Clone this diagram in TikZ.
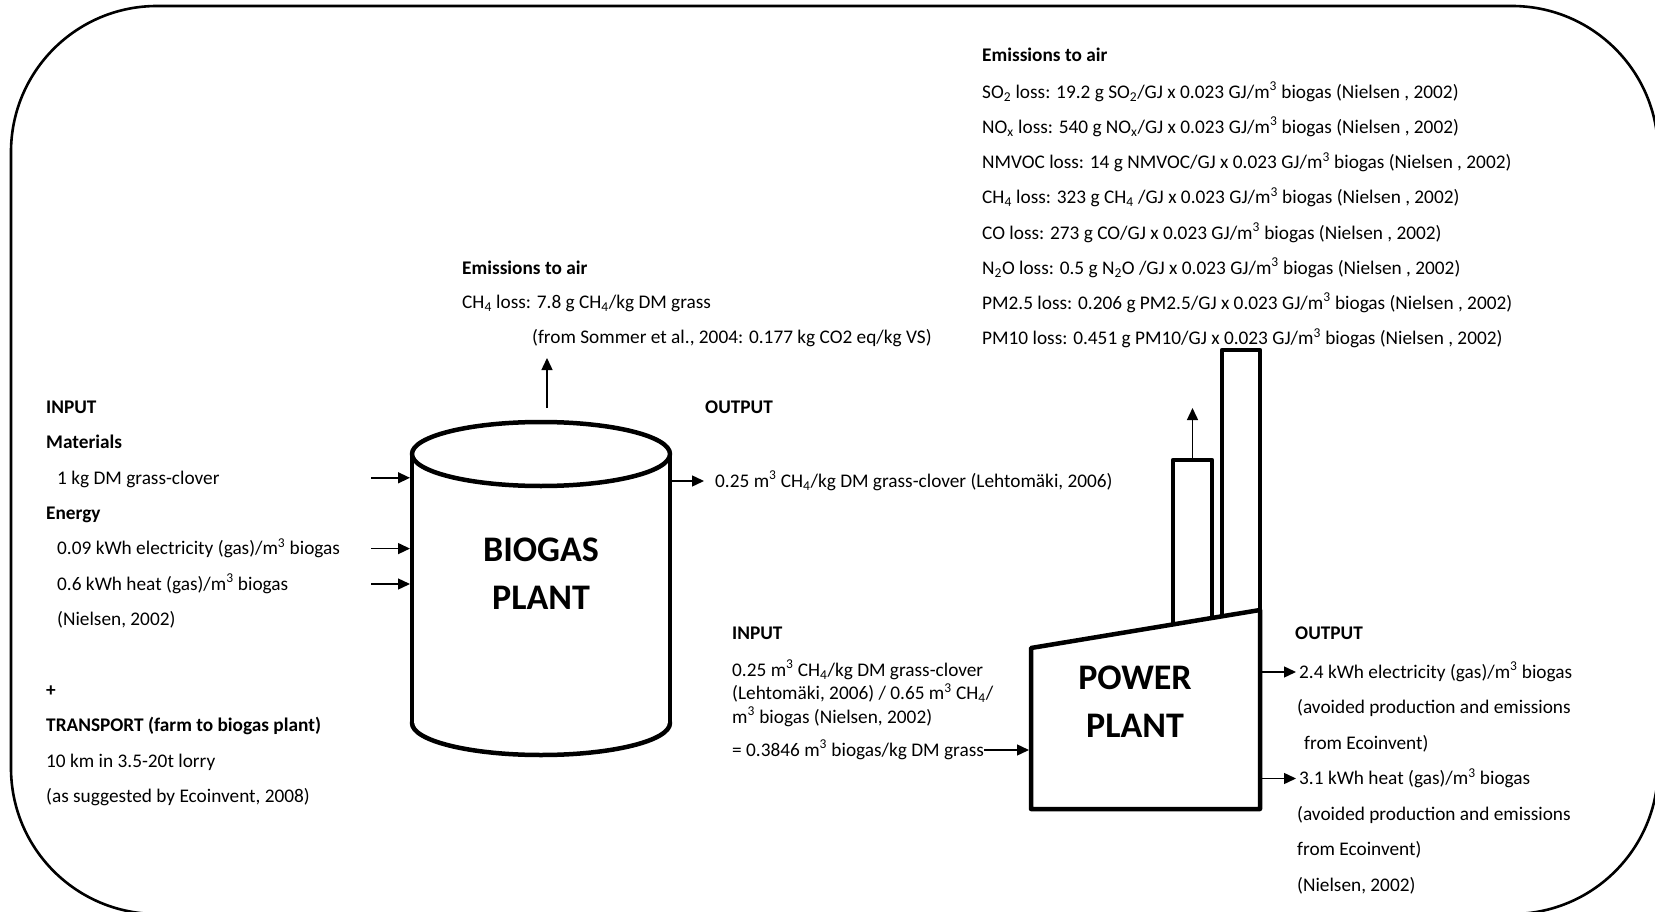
\documentclass[tikz,border=0pt]{standalone}
\usepackage{fontspec}
\setmainfont{Carlito}
\usetikzlibrary{arrows.meta}
\newcommand{\msup}[1]{\textsuperscript{#1}}
\newcommand{\msub}[1]{\textsubscript{#1}}
\tikzset{
	txt/.style={anchor=west, inner sep=0pt, text height=12.5pt, text depth=0pt, font=\fontsize{19.3}{23}\selectfont},
	hdr/.style={txt, font=\fontsize{19.3}{23}\selectfont\bfseries},
	plantlbl/.style={align=center, inner sep=0pt, font=\fontsize{36}{48}\selectfont\bfseries},
	tank/.style={line width=4.5pt, line join=round},
	arr/.style={-{Triangle[length=12pt, width=11pt]}, line width=1.4pt},
	frame/.style={line width=2.6pt, rounded corners=146pt},
}

\begin{document}
\begin{tikzpicture}[x=1pt, y=-1pt]
	\useasboundingbox (0,0) rectangle (1655,912);
	\draw[frame] (11,6) rectangle (1658,914);

	% biogas plant (cylinder)
	\coordinate (bioTL) at (412,454);
	\coordinate (bioTR) at (670,454);
	\draw[tank] (541,723) ellipse (129 and 32);
	\fill[white] (bioTL) rectangle (670,723);
	\draw[tank] (bioTL) -- (412,723) (bioTR) -- (670,723);
	\draw[tank] (541,454) ellipse (129 and 32);
	\node[plantlbl] (bio) at (541,574) {BIOGAS\\PLANT};

	% power plant
	\coordinate (ppTL) at (1031,648);
	\coordinate (ppTR) at (1260,610);
	\draw[tank] (1173,640) -- (1173,460) -- (1212,460) -- (1212,640);
	\draw[tank] (1222,640) -- (1222,350) -- (1260,350) -- (ppTR);
	\filldraw[tank, fill=white] (ppTL) -- (ppTR) -- (1260,809) -- (1031,809) -- cycle;
	\node[plantlbl] (pp) at (1135,702) {POWER\\PLANT};

	% input to biogas plant
	\foreach \r/\x/\t in {0/46/\textbf{INPUT}, 1/46/\textbf{Materials}, 2/57/{1 kg DM grass-clover}, 3/46/\textbf{Energy}, 4/57/{0.09 kWh electricity (gas)/m\msup{3} biogas}, 5/57/{0.6 kWh heat (gas)/m\msup{3} biogas}, 6/57/{(Nielsen, 2002)}, 8/46/\textbf{+}, 9/46/{\textbf{TRANSPORT (farm to biogas plant)}}, 10/46/{10 km in 3.5-20t lorry}, 11/46/{(as suggested by Ecoinvent, 2008)}}
		\node[txt] (in\r) at (\x, {407+35.4*\r}) {\t};
	\coordinate (lx) at (371,0);
	\foreach \r in {2,4,5}
		\draw[arr] (lx |- in\r) -- ([xshift=-2pt]bioTL |- in\r);

	% emissions from biogas plant
	\node[hdr] (bem0) at (462,268) {Emissions to air};
	\node[txt] (bem1) at (462,302) {CH\msub{4} loss: 7.8 g CH\msub{4}/kg DM grass};
	\node[txt] (bem2) at (532,337) {(from Sommer et al., 2004: 0.177 kg CO2 eq/kg VS)};
	\coordinate (bioUp) at (547,408);
	\draw[arr] (bioUp) -- ++(0,-50);

	% output of biogas plant
	\node[hdr] (bout0) at (705,407) {OUTPUT};
	\node[txt] (bout1) at (715,481) {0.25 m\msup{3} CH\msub{4}/kg DM grass-clover (Lehtomäki, 2006)};
	\draw[arr] ([xshift=2pt]bioTR |- bout1) -- ([xshift=-11pt]bout1.west);

	% emissions from power plant
	\node[hdr] (pem0) at (982,55) {Emissions to air};
	\foreach \k/\t in {1/{SO\msub{2} loss: 19.2 g SO\msub{2}/GJ x 0.023 GJ/m\msup{3} biogas (Nielsen , 2002)},
		2/{NO\msub{x} loss: 540 g NO\msub{x}/GJ x 0.023 GJ/m\msup{3} biogas (Nielsen , 2002)},
		3/{NMVOC loss: 14 g NMVOC/GJ x 0.023 GJ/m\msup{3} biogas (Nielsen , 2002)},
		4/{CH\msub{4} loss: 323 g CH\msub{4} /GJ x 0.023 GJ/m\msup{3} biogas (Nielsen , 2002)},
		5/{CO loss: 273 g CO/GJ x 0.023 GJ/m\msup{3} biogas (Nielsen , 2002)},
		6/{N\msub{2}O loss: 0.5 g N\msub{2}O /GJ x 0.023 GJ/m\msup{3} biogas (Nielsen , 2002)},
		7/{PM2.5 loss: 0.206 g PM2.5/GJ x 0.023 GJ/m\msup{3} biogas (Nielsen , 2002)},
		8/{PM10 loss: 0.451 g PM10/GJ x 0.023 GJ/m\msup{3} biogas (Nielsen , 2002)}}
		\node[txt] (pem\k) at (982, {92+35.2*(\k-1)}) {\t};
	\coordinate (ppUp) at (1192.5,458);
	\draw[arr] (ppUp) -- ++(0,-50);

	% input to power plant
	\node[hdr] (pin0) at (732,633) {INPUT};
	\node[txt] (pin1) at (732,670) {0.25 m\msup{3} CH\msub{4}/kg DM grass-clover};
	\node[txt] (pin2) at (732,693.5) {(Lehtomäki, 2006) / 0.65 m\msup{3} CH\msub{4}/};
	\node[txt] (pin3) at (732,717) {m\msup{3} biogas (Nielsen, 2002)};
	\node[txt] (pin4) at (732,750) {= 0.3846 m\msup{3} biogas/kg DM grass};
	\draw[arr] (pin4.east) -- ([xshift=-2pt]ppTL |- pin4.east);

	% output of power plant
	\node[hdr] (pout0) at (1295,633) {OUTPUT};
	\foreach \k/\x/\t in {1/1299/{2.4 kWh electricity (gas)/m\msup{3} biogas}, 2/1297/{(avoided production and emissions}, 3/1304/{from Ecoinvent)}, 4/1299/{3.1 kWh heat (gas)/m\msup{3} biogas}, 5/1297/{(avoided production and emissions}, 6/1297/{from Ecoinvent)}, 7/1297/{(Nielsen, 2002)}}
		\node[txt] (pout\k) at (\x, {672+35.5*(\k-1)}) {\t};
	\foreach \k in {1,4}
		\draw[arr] ([xshift=2pt]ppTR |- pout\k) -- ([xshift=-3pt]pout\k.west);
\end{tikzpicture}
\end{document}
